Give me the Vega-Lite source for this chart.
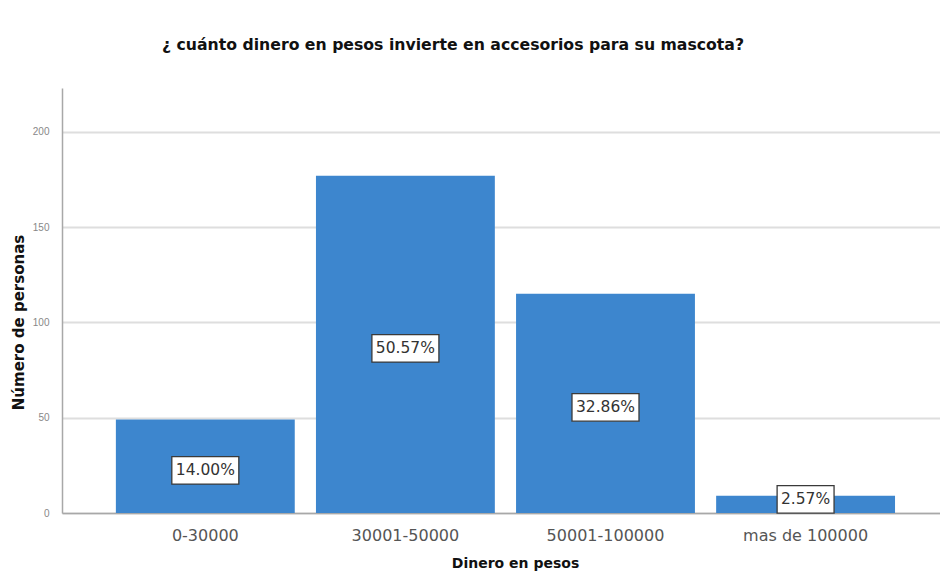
{
  "$schema": "https://vega.github.io/schema/vega-lite/v6.json",
  "autosize": "none",
  "width": 878,
  "height": 425,
  "padding": {"left": 62, "top": 88, "right": 0, "bottom": 58},
  "background": "white",
  "title": {
    "text": "¿ cuánto dinero en pesos invierte en accesorios para su mascota?",
    "font": "DejaVu Sans",
    "fontSize": 15.7,
    "fontWeight": "bold",
    "color": "#111111",
    "anchor": "middle",
    "dx": -48,
    "offset": 34
  },
  "data": {
    "values": [
      {"rango": "0-30000", "personas": 49, "pct": "14.00%"},
      {"rango": "30001-50000", "personas": 177, "pct": "50.57%"},
      {"rango": "50001-100000", "personas": 115, "pct": "32.86%"},
      {"rango": "mas de 100000", "personas": 9, "pct": "2.57%"}
    ]
  },
  "config": {
    "view": {"stroke": null},
    "axis": {"labelFont": "DejaVu Sans", "titleFont": "DejaVu Sans"}
  },
  "encoding": {
    "x": {
      "field": "rango",
      "type": "nominal",
      "sort": null,
      "scale": {"paddingInner": 0.106, "paddingOuter": 0.247, "align": 0.545},
      "axis": {
        "title": "Dinero en pesos",
        "titleFontSize": 14,
        "titleFontWeight": "bold",
        "titleColor": "#111111",
        "titleX": 453,
        "titlePadding": 13,
        "labelAngle": 0,
        "labelFontSize": 16,
        "labelColor": "#555555",
        "labelPadding": 14,
        "ticks": false,
        "domainColor": "#a8a8a8",
        "domainWidth": 1.5
      }
    }
  },
  "layer": [
    {
      "mark": {"type": "bar", "color": "#3d86ce"},
      "encoding": {
        "y": {
          "field": "personas",
          "type": "quantitative",
          "scale": {"domain": [0, 223], "nice": false},
          "axis": {
            "title": "Número de personas",
            "titleFontSize": 15,
            "titleFontWeight": "bold",
            "titleColor": "#111111",
            "titleY": 234,
            "titlePadding": 6,
            "values": [0, 50, 100, 150, 200],
            "labelFont": "Liberation Sans",
            "labelFontSize": 10,
            "labelColor": "#888888",
            "labelPadding": 13,
            "ticks": false,
            "grid": true,
            "gridColor": "#dedede",
            "gridWidth": 1.8,
            "domainColor": "#a8a8a8",
            "domainWidth": 1.5
          }
        }
      }
    },
    {
      "transform": [{"calculate": "datum.personas / 2", "as": "mitad"}],
      "mark": {"type": "point", "filled": true, "fill": "white", "stroke": "#3a3a3a", "strokeWidth": 1.3, "opacity": 1, "size": 4489, "yOffset": {"expr": "datum.personas < 20 ? -5 : 4"}},
      "encoding": {
        "y": {"field": "mitad", "type": "quantitative"},
        "shape": {
          "condition": {"test": "length(datum.pct) < 6", "value": "M-0.85,-0.41L0.85,-0.41L0.85,0.41L-0.85,0.41Z"},
          "value": "M-1,-0.41L1,-0.41L1,0.41L-1,0.41Z"
        }
      }
    },
    {
      "transform": [{"calculate": "datum.personas / 2", "as": "mitad"}],
      "mark": {"type": "text", "font": "DejaVu Sans", "fontSize": 15.5, "color": "#333333", "baseline": "middle", "align": "center", "yOffset": {"expr": "datum.personas < 20 ? -5 : 4"}},
      "encoding": {
        "y": {"field": "mitad", "type": "quantitative"},
        "text": {"field": "pct"}
      }
    }
  ]
}
